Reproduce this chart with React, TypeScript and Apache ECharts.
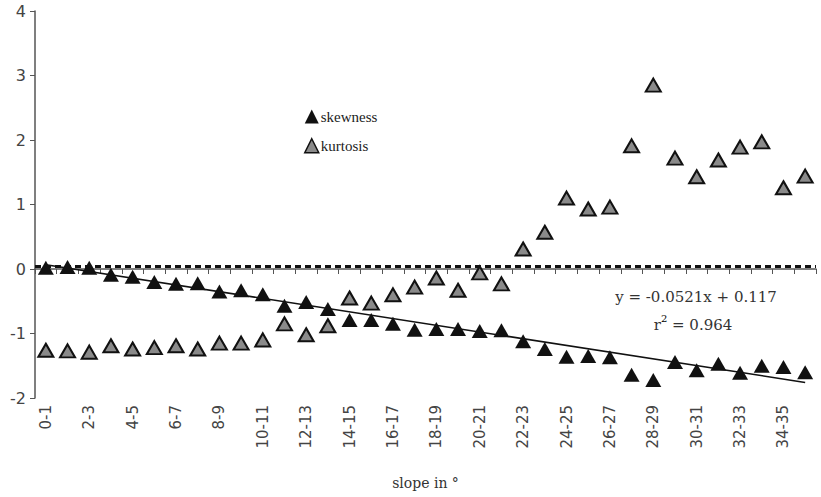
import React, { useEffect, useRef } from "react";
import * as echarts from "echarts";

const categories: string[] = [
  "0-1", "1-2", "2-3", "3-4", "4-5", "5-6", "6-7", "7-8", "8-9", "9-10",
  "10-11", "11-12", "12-13", "13-14", "14-15", "15-16", "16-17", "17-18", "18-19", "19-20",
  "20-21", "21-22", "22-23", "23-24", "24-25", "25-26", "26-27", "27-28", "28-29", "29-30",
  "30-31", "31-32", "32-33", "33-34", "34-35", "35-36",
];

const skewness: number[] = [
  0.02, 0.03, 0.02, -0.09, -0.12, -0.2, -0.23, -0.22, -0.35, -0.33,
  -0.39, -0.57, -0.51, -0.62, -0.79, -0.79, -0.85, -0.94, -0.93, -0.93,
  -0.96, -0.95, -1.12, -1.24, -1.36, -1.35, -1.37, -1.64, -1.72, -1.44,
  -1.57, -1.47, -1.61, -1.5, -1.52, -1.6,
];

const kurtosis: number[] = [
  -1.26, -1.27, -1.29, -1.19, -1.24, -1.22, -1.19, -1.24, -1.15, -1.15,
  -1.1, -0.85, -1.02, -0.88, -0.45, -0.53, -0.4, -0.28, -0.14, -0.33,
  -0.06, -0.23, 0.31, 0.57, 1.1, 0.93, 0.96, 1.91, 2.85, 1.72,
  1.43, 1.69, 1.89, 1.97, 1.26, 1.44,
];

const trendSlope = -0.0521;
const trendIntercept = 0.117;
const referenceLevel = 0.04;
const yTicks = [-2, -1, 0, 1, 2, 3, 4];

export default function App() {
  const ref = useRef<HTMLDivElement>(null);
  useEffect(() => {
    if (!ref.current) return;
    const chart = echarts.init(ref.current, undefined, { renderer: "svg" });
    const n = categories.length;
    const trendData = [
      [categories[0], trendSlope * 1 + trendIntercept],
      [categories[n - 1], trendSlope * n + trendIntercept],
    ];
    chart.setOption({
      animation: false,
      backgroundColor: "#ffffff",
      grid: { left: 35, right: 5, top: 11, bottom: 99, containLabel: false },
      legend: {
        data: [
          { name: "skewness", itemStyle: { color: "#111", borderWidth: 0 } },
          { name: "kurtosis", itemStyle: { color: "#8a8a8a", borderColor: "#111", borderWidth: 1.5 } },
        ],
        orient: "vertical",
        left: 299,
        top: 104,
        itemGap: 14,
        itemWidth: 14,
        itemHeight: 14,
        icon: "triangle",
        textStyle: { fontFamily: "Liberation Serif", fontSize: 15, color: "#222", padding: [0, 0, 0, -3] },
      },
      xAxis: {
        type: "category",
        data: categories,
        boundaryGap: true,
        name: "slope in °",
        nameLocation: "middle",
        nameGap: 78,
        nameTextStyle: { fontFamily: "DejaVu Serif", fontSize: 14, color: "#333" },
        axisLine: { lineStyle: { color: "#555", width: 1.5 } },
        axisTick: { show: true, interval: 0, length: 5, lineStyle: { color: "#555" } },
        axisLabel: {
          interval: 1,
          rotate: 90,
          fontFamily: "DejaVu Sans",
          fontSize: 15,
          color: "#444",
          margin: 7,
        },
        splitLine: { show: false },
      },
      yAxis: {
        type: "value",
        min: yTicks[0],
        max: yTicks[yTicks.length - 1],
        interval: 1,
        axisLine: { show: true, lineStyle: { color: "#555", width: 1.5 } },
        axisTick: { show: true, length: 5, lineStyle: { color: "#555" } },
        axisLabel: { fontFamily: "DejaVu Sans", fontSize: 16, color: "#444", margin: 9 },
        splitLine: { show: false },
      },
      series: [
        {
          name: "trend",
          type: "line",
          data: trendData,
          symbol: "none",
          lineStyle: { color: "#111", width: 1.6 },
          z: 1,
          markLine: {
            silent: true,
            symbol: "none",
            label: { show: false },
            lineStyle: { color: "#111", width: 3, type: [6, 4] },
            data: [{ yAxis: referenceLevel }],
          },
        },
        {
          name: "skewness",
          type: "scatter",
          data: skewness,
          symbol: "triangle",
          symbolSize: [16, 14],
          itemStyle: { color: "#111", opacity: 1 },
          z: 3,
        },
        {
          name: "kurtosis",
          type: "scatter",
          data: kurtosis,
          symbol: "triangle",
          symbolSize: [15, 13],
          itemStyle: { color: "#8a8a8a", borderColor: "#111", borderWidth: 2, opacity: 1 },
          z: 3,
        },
      ],
      graphic: [
        {
          type: "text",
          x: 696,
          y: 297,
          style: {
            text: "y = -0.0521x + 0.117",
            fontFamily: "DejaVu Serif",
            fontSize: 15,
            fill: "#333",
            align: "center",
            verticalAlign: "middle",
          },
        },
        {
          type: "text",
          x: 693,
          y: 325,
          style: {
            text: "{a|r}{b|2}{a| = 0.964}",
            align: "center",
            verticalAlign: "middle",
            rich: {
              a: { fontFamily: "DejaVu Serif", fontSize: 15, fill: "#333", color: "#333" },
              b: { fontFamily: "DejaVu Serif", fontSize: 10, color: "#333", padding: [0, 0, 14, 0] },
            },
          },
        },
      ],
    });
    return () => chart.dispose();
  }, []);
  return (
    <div
      ref={ref}
      style={{ position: "absolute", left: 0, top: 0, width: 821, height: 497 }}
    />
  );
}
